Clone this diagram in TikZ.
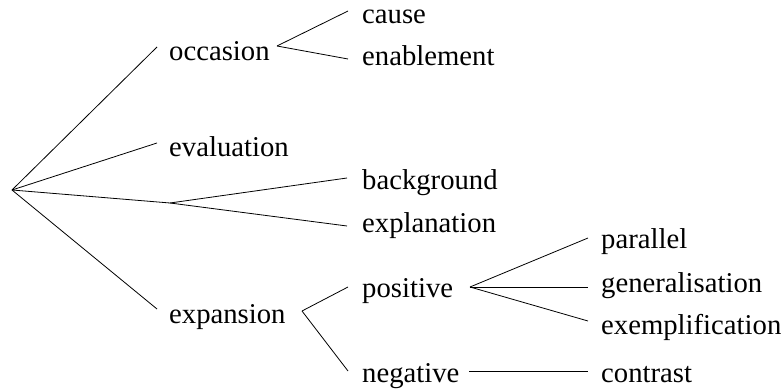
\documentclass[tikz,border=0pt]{standalone}
\usepackage{fontspec}
\setmainfont{Liberation Serif}
\begin{document}
\begin{tikzpicture}[x=1pt,y=1pt,
  lbl/.style={inner sep=0pt, anchor=base west, font=\fontsize{28.7}{34}\selectfont},
  edge/.style={draw=black, line width=0.8pt}]
\useasboundingbox (0,0) rectangle (782,391);
% labels
\node[lbl] (occasion) at (169,330) {occasion};
\node[lbl] (evaluation) at (169,234) {evaluation};
\node[lbl] (expansion) at (169,67) {expansion};
\node[lbl] (cause) at (362,367) {cause};
\node[lbl] (enablement) at (362,325) {enablement};
\node[lbl] (background) at (362,201) {background};
\node[lbl] (explanation) at (362,158) {explanation};
\node[lbl] (positive) at (362,93) {positive};
\node[lbl] (negative) at (362,9) {negative};
\node[lbl] (parallel) at (601,142) {parallel};
\node[lbl] (generalisation) at (601,98) {generalisation};
\node[lbl] (exemplification) at (601,56) {exemplification};
\node[lbl] (contrast) at (601,9) {contrast};
% junctions
\coordinate (root) at (12,201);
\coordinate (jocc) at (277,345);
\coordinate (jbe) at (170,188);
\coordinate (jexp) at (302,80);
\coordinate (jpos) at (470,104);
\coordinate (jneg) at (469,20);
% connectors
\draw[edge] (root) -- ([shift={(-12,14)}]occasion.base west);
\draw[edge] (root) -- ([shift={(-12,14)}]evaluation.base west);
\draw[edge] (root) -- (jbe);
\draw[edge] (root) -- ([shift={(-12,15)}]expansion.base west);
\draw[edge] (jocc) -- ([shift={(-14,13)}]cause.base west);
\draw[edge] (jocc) -- ([shift={(-14,7)}]enablement.base west);
\draw[edge] (jbe) -- ([shift={(-15,12)}]background.base west);
\draw[edge] (jbe) -- ([shift={(-15,7)}]explanation.base west);
\draw[edge] (jexp) -- ([shift={(-14,11)}]positive.base west);
\draw[edge] (jexp) -- ([shift={(-14,11)}]negative.base west);
\draw[edge] (jpos) -- ([shift={(-13,11)}]parallel.base west);
\draw[edge] (jpos) -- ([shift={(-13,6)}]generalisation.base west);
\draw[edge] (jpos) -- ([shift={(-13,14)}]exemplification.base west);
\draw[edge] (jneg) -- ([shift={(-13,11)}]contrast.base west);
\end{tikzpicture}
\end{document}
